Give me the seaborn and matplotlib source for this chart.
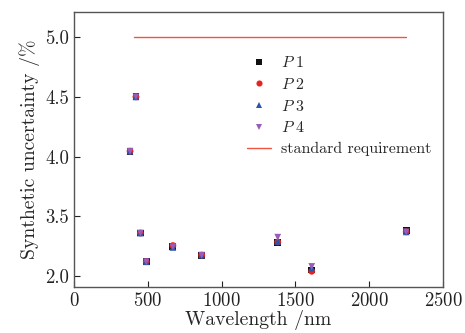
import pandas as pd
import matplotlib
matplotlib.use('Agg')
import matplotlib.pyplot as plt
import seaborn as sns

# wavelengths (nm) and synthetic uncertainty per position (axis coordinates)
wavelength = [380, 420, 450, 490, 670, 865, 1380, 1610, 2250]
p1 = [4.045, 4.50, 3.36, 3.12, 3.245, 3.175, 3.28, 3.05, 3.38]
p2 = [4.045, 4.50, 3.36, 3.12, 3.255, 3.175, 3.285, 3.04, 3.37]
p3 = [4.045, 4.50, 3.36, 3.12, 3.24, 3.175, 3.29, 3.065, 3.37]
p4 = [4.045, 4.50, 3.36, 3.12, 3.245, 3.175, 3.325, 3.08, 3.37]

std_x = [410, 2250]
std_y = [5.0, 5.0]

ytick_pos = [3.0, 3.5, 4.0, 4.5, 5.0]
ytick_labels = ['2.0', '3.5', '4.0', '4.5', '5.0']
xticks = [0, 500, 1000, 1500, 2000, 2500]

sns.set_style('ticks')
plt.rcParams['font.family'] = ['cmr10', 'DejaVu Serif']
plt.rcParams['mathtext.fontset'] = 'cm'
plt.rcParams['axes.formatter.use_mathtext'] = True

series = {r'$P\ 1$': p1, r'$P\ 2$': p2, r'$P\ 3$': p3, r'$P\ 4$': p4}
df = pd.concat([pd.DataFrame({'wavelength': wavelength, 'value': v, 'pos': k})
                for k, v in series.items()], ignore_index=True)
names = list(series.keys())
palette = dict(zip(names, ['#111111', '#e8231f', '#2a55a8', '#9a5cb8']))
markers = dict(zip(names, ['s', 'o', '^', 'v']))

fig = plt.figure(figsize=(4.65, 3.33), dpi=100)
ax = fig.add_axes([0.159, 0.138, 0.794, 0.826])

sns.scatterplot(data=df, x='wavelength', y='value', hue='pos', style='pos',
                palette=palette, markers=markers, s=24, linewidth=0,
                ax=ax)
sns.lineplot(x=std_x, y=std_y, color='#f2553f', linewidth=1.0,
             label='standard requirement', ax=ax)

ax.set_xlim(0, 2500)
ax.set_ylim(2.908, 5.21)
ax.set_xticks(xticks)
ax.set_yticks(ytick_pos)
ax.set_yticklabels(ytick_labels)
ax.tick_params(direction='in', length=4, width=0.8, labelsize=13.5, colors='#222222')
for sp in ax.spines.values():
    sp.set_color('#555555')
    sp.set_linewidth(1.0)

ax.set_xlabel('Wavelength /nm', fontsize=14.2, labelpad=0)
ax.set_ylabel('Synthetic uncertainty /%', fontsize=14.2, labelpad=4)

leg = ax.legend(loc='upper left', bbox_to_anchor=(0.43, 0.895), frameon=False,
                fontsize=11.5, handlelength=1.5, handletextpad=0.6,
                labelspacing=0.42, markerscale=0.9)

fig.savefig('out.png', dpi=100)
